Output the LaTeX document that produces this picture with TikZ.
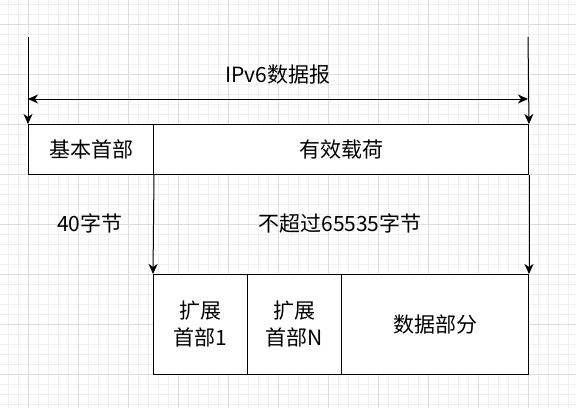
\documentclass[tikz,border=0pt]{standalone}
\usepackage{fontspec}
\setmainfont{Noto Sans CJK SC}
\usetikzlibrary{arrows.meta}
\definecolor{gridminor}{HTML}{F0F0F0}
\definecolor{gridmajor}{HTML}{DDDDDD}
\begin{document}
\begin{tikzpicture}[x=1pt,y=-1pt,
  txt/.style={font=\fontsize{21}{27}\selectfont, inner sep=0pt, align=center},
  box/.style={txt, draw, line width=1pt, fill=white, minimum height=#1, anchor=north west},
  arr/.style={line width=1pt, -{Stealth[length=10pt,width=9pt,inset=3pt]}},
  darr/.style={line width=1pt, {Stealth[length=10pt,width=9pt,inset=3pt]}-{Stealth[length=10pt,width=9pt,inset=3pt]}},
  ln/.style={line width=1pt}
]
\useasboundingbox (0,0) rectangle (576,408);
\fill[white] (0,0) rectangle (576,408);
% grid
\foreach \x in {8,18,...,578} \draw[gridminor, line width=1pt] (\x,0) -- (\x,408);
\foreach \y in {4,14,...,408} \draw[gridminor, line width=1pt] (0,\y) -- (576,\y);
\foreach \x in {28,78,...,578} \draw[gridmajor, line width=1pt] (\x,0) -- (\x,408);
\foreach \y in {24,74,...,408} \draw[gridmajor, line width=1pt] (0,\y) -- (576,\y);

% top boxes
\node[box=50pt, minimum width=125pt] (base) at (28,124) {基本首部};
\node[box=50pt, minimum width=375pt] (payload) at (153,124) {有效载荷};
% bottom boxes
\node[box=100pt, minimum width=94pt] (ext1) at (153,274) {扩展\\首部1};
\node[box=100pt, minimum width=94pt] (extn) at (247,274) {扩展\\首部N};
\node[box=100pt, minimum width=187pt] (data) at (341,274) {数据部分};

% labels
\node[txt] (title) at (278,75) {IPv6数据报};
\node[txt] (l40) at (90,223) {40字节};
\node[txt] (lmax) at (340,223) {不超过65535字节};

% vertical markers
\coordinate (lt) at (28,37);
\coordinate (rt) at (528,37);
\coordinate (lm) at (28,99);
\coordinate (rm) at (528,99);
\draw[arr] (lt) -- (base.north west);
\draw[arr] (rt) -- (payload.north east);
\draw[darr] (lm) -- (rm);

% lower arrows
\draw[arr] (base.south east) -- (ext1.north west);
\draw[arr] (payload.south east) -- (data.north east);
\end{tikzpicture}
\end{document}
